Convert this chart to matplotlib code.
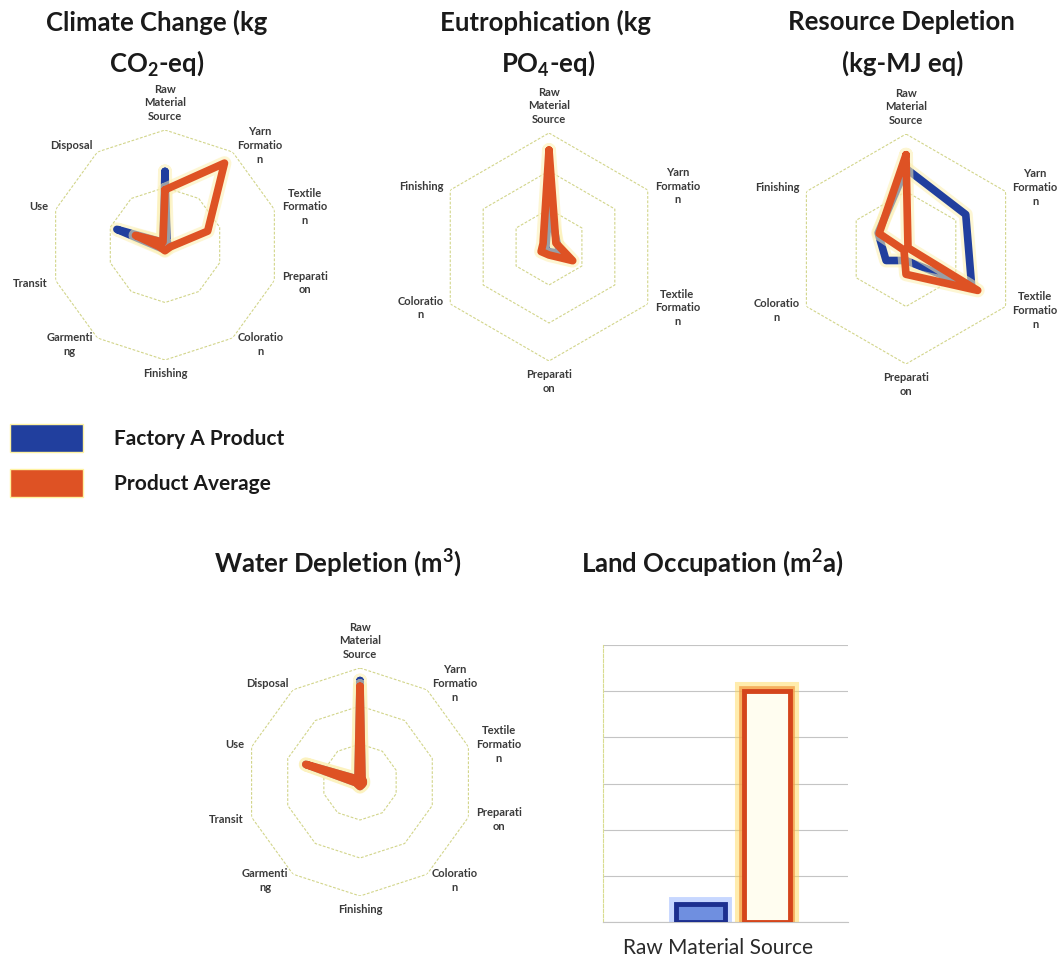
import numpy as np
import matplotlib.pyplot as plt
import matplotlib.patheffects as pe
from matplotlib.patches import Patch

plt.rcParams['font.family'] = ['Lato', 'DejaVu Sans']
plt.rcParams['mathtext.fontset'] = 'custom'
plt.rcParams['mathtext.rm'] = 'Lato:bold'
plt.rcParams['mathtext.it'] = 'Lato:bold'
plt.rcParams['mathtext.bf'] = 'Lato:bold'

# ---- data (as fraction of the outer ring) ----
stages10 = ['Raw\nMaterial\nSource', 'Yarn\nFormatio\nn', 'Textile\nFormatio\nn',
            'Preparati\non', 'Coloratio\nn', 'Finishing', 'Garmenti\nng',
            'Transit', 'Use', 'Disposal']
stages6 = stages10[:6]

climate_factory = [0.64, 0.03, 0.03, 0.03, 0.03, 0.04, 0.04, 0.06, 0.44, 0.03]
climate_average = [0.48, 0.88, 0.39, 0.05, 0.04, 0.05, 0.04, 0.05, 0.27, 0.03]

eutro_factory = [0.37, 0.08, 0.12, 0.04, 0.04, 0.03]
eutro_average = [0.85, 0.07, 0.24, 0.07, 0.08, 0.06]

resource_factory = [0.70, 0.60, 0.66, 0.10, 0.20, 0.28]
resource_average = [0.82, 0.02, 0.72, 0.22, 0.02, 0.27]

water_factory = [0.89, 0.03, 0.03, 0.03, 0.03, 0.04, 0.03, 0.03, 0.50, 0.03]
water_average = [0.84, 0.03, 0.03, 0.03, 0.03, 0.04, 0.03, 0.03, 0.50, 0.03]

land_categories = ['Raw Material Source']
land_factory = [0.4]
land_average = [5.0]

BLUE = '#213f9e'
ORANGE = '#de5224'
RING = '#d2d58a'

fig = plt.figure(figsize=(10.58, 9.66), dpi=100)


def radar(rect, labels, factory, average, rings):
    ax = fig.add_axes(rect, projection='polar')
    n = len(labels)
    theta = np.linspace(0, 2 * np.pi, n, endpoint=False)
    closed = np.append(theta, theta[0])
    ax.set_theta_zero_location('N')
    ax.set_theta_direction(-1)
    ax.set_ylim(0, 1)
    ax.grid(False)
    ax.set_xticks([])
    ax.set_yticks([])
    ax.spines['polar'].set_visible(False)
    ax.patch.set_alpha(0)

    for r in rings:
        ax.plot(closed, [r] * (n + 1), color=RING, lw=0.8, ls=(0, (2.5, 1.5)), zorder=1)

    glow = [pe.Stroke(linewidth=10, foreground='#fcefb0', alpha=0.55),
            pe.Normal()]
    for vals, col in [(factory, BLUE), (average, ORANGE)]:
        v = np.append(vals, vals[0])
        ax.plot(closed, v, color=col, lw=5.5, solid_joinstyle='round',
                solid_capstyle='round', path_effects=glow, clip_on=False, zorder=3)

    for t, lab in zip(theta, labels):
        s, c = np.sin(t), np.cos(t)
        ha = 'left' if s > 0.01 else ('right' if s < -0.01 else 'center')
        va = 'center' if abs(s) > 0.01 else ('bottom' if c > 0 else 'top')
        ax.text(t, 1.07, lab, ha=ha, va=va, multialignment='center', fontsize=8,
                fontweight='bold', color='#3a3a3a', linespacing=1.3)
    return ax


# ---- radar panels ----
radar([50 / 1058, 1 - 360 / 966, 230 / 1058, 230 / 966], stages10,
      climate_factory, climate_average, [0.5, 1.0])
radar([435 / 1058, 1 - 361 / 966, 228 / 1058, 228 / 966], stages6,
      eutro_factory, eutro_average, [1 / 3, 2 / 3, 1.0])
radar([791 / 1058, 1 - 364 / 966, 230 / 1058, 230 / 966], stages6,
      resource_factory, resource_average, [0.5, 1.0])
radar([246 / 1058, 1 - 896 / 966, 228 / 1058, 228 / 966], stages10,
      water_factory, water_average, [1 / 3, 2 / 3, 1.0])

# ---- land occupation bars ----
axb = fig.add_axes([602.7 / 1058, 1 - 922 / 966, 245.3 / 1058, 277 / 966])
x = np.arange(len(land_categories))
axb.bar(x - 0.073, land_factory, width=0.2, color='#6f8fe0', edgecolor='#1c2f8f',
        linewidth=3.5, zorder=3,
        path_effects=[pe.Stroke(linewidth=10, foreground='#9ab6ff', alpha=0.55), pe.Normal()])
axb.bar(x + 0.2, land_average, width=0.19, color='#fffdf0', edgecolor='#d4451c',
        linewidth=3.5, zorder=3,
        path_effects=[pe.Stroke(linewidth=13, foreground='#ffd54a', alpha=0.45),
                      pe.Stroke(linewidth=7, foreground='#f3a04a', alpha=0.8),
                      pe.Normal()])
axb.set_xlim(-0.47, 0.53)
axb.set_ylim(0, 6)
axb.set_yticks(range(7))
axb.yaxis.grid(True, color='#c4c4c4', lw=0.8)
axb.set_axisbelow(True)
axb.tick_params(left=False, labelleft=False, bottom=False, labelsize=15, pad=8)
axb.set_xticks(x)
axb.set_xticklabels(land_categories, color='#2a2a2a')
for s in ['top', 'right']:
    axb.spines[s].set_visible(False)
axb.spines['left'].set_color('#d9dc90')
axb.spines['left'].set_linestyle((0, (3, 1.5)))
axb.spines['bottom'].set_color('#c4c4c4')

# ---- titles ----
tkw = dict(ha='center', va='center', fontsize=18.5, fontweight='bold', color='#1a1a1a')
fig.text(157 / 1058, 1 - 22 / 966, 'Climate Change (kg', **tkw)
fig.text(157 / 1058, 1 - 63 / 966, r'CO$_2$-eq)', **tkw)
fig.text(545 / 1058, 1 - 22 / 966, 'Eutrophication (kg', **tkw)
fig.text(548 / 1058, 1 - 63 / 966, r'PO$_4$-eq)', **tkw)
fig.text(901 / 1058, 1 - 22 / 966, 'Resource Depletion', **tkw)
fig.text(903 / 1058, 1 - 63 / 966, '(kg-MJ eq)', **tkw)
fig.text(338 / 1058, 1 - 563 / 966, r'Water Depletion (m$^3$)', **tkw)
fig.text(712 / 1058, 1 - 563 / 966, r'Land Occupation (m$^2$a)', **tkw)

# ---- legend ----
handles = [Patch(facecolor=BLUE, edgecolor='#fff2a0', lw=1, label='Factory A Product'),
           Patch(facecolor=ORANGE, edgecolor='#fff2a0', lw=1, label='Product Average')]
leg = fig.legend(handles=handles, loc='upper left', bbox_to_anchor=(10 / 1058, 1 - 424 / 966),
                 frameon=False, borderpad=0, borderaxespad=0,
                 handlelength=3.5, handleheight=1.72, handletextpad=1.5,
                 labelspacing=0.78, prop={'size': 15, 'weight': 'bold'})
for t in leg.get_texts():
    t.set_color('#1a1a1a')

fig.savefig('out.png', dpi=100)
